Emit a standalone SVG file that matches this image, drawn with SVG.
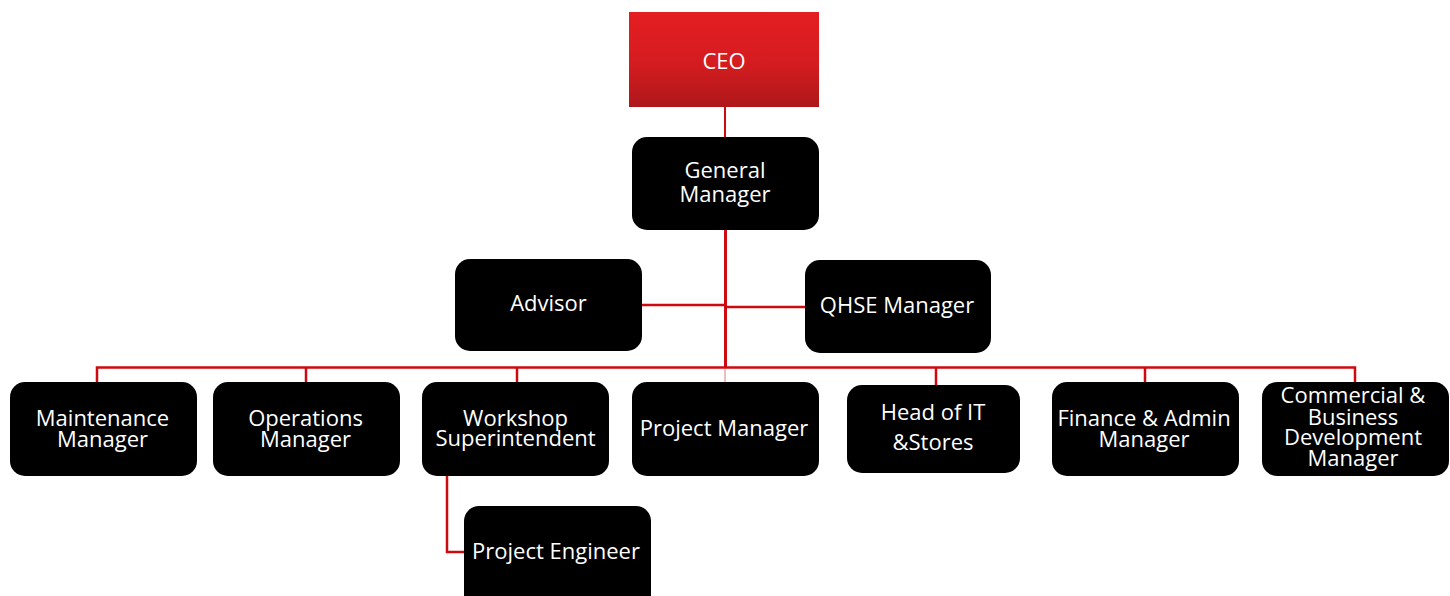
<svg xmlns="http://www.w3.org/2000/svg" width="1450" height="596" viewBox="0 0 1450 596">
<defs>
<linearGradient id="ceoGrad" x1="0" y1="0" x2="0" y2="1">
<stop offset="0" stop-color="#e41e22"/>
<stop offset="0.55" stop-color="#d41c20"/>
<stop offset="1" stop-color="#ae171a"/>
</linearGradient>
</defs>
<style>
.box{fill:#000000;}
.lbl{font-family:"Open Sans","Noto Sans","DejaVu Sans",sans-serif;font-size:22px;fill:#ffffff;text-anchor:middle;}
.ln{stroke:#cc0a0f;stroke-width:2.5;fill:none;}
.thin{stroke:#cc0a0f;stroke-width:2;fill:none;}
.pale{stroke:#e8a8aa;stroke-width:1.5;fill:none;}
</style>
<rect width="1450" height="596" fill="#ffffff"/>
<g id="connectors">
<line class="thin" x1="725" y1="107" x2="725" y2="137"/>
<line class="ln" x1="725.5" y1="230" x2="725.5" y2="368" style="stroke-width:3"/>
<line class="ln" x1="642" y1="305" x2="725" y2="305"/>
<line class="ln" x1="725" y1="307" x2="805" y2="307"/>
<polyline class="ln" points="97,382 97,367.5 1355,367.5 1355,382"/>
<line class="ln" x1="306" y1="367" x2="306" y2="382"/>
<line class="ln" x1="517" y1="367" x2="517" y2="382"/>
<line class="pale" x1="725" y1="369" x2="725" y2="382"/>
<line class="ln" x1="936" y1="367" x2="936" y2="385"/>
<line class="ln" x1="1145" y1="367" x2="1145" y2="382"/>
<polyline class="ln" points="447,476 447,552 464,552"/>
</g>
<g id="ceo">
<rect x="629" y="12" width="190" height="95" fill="url(#ceoGrad)"/>
<text class="lbl" x="724" y="69">CEO</text>
</g>
<g id="general-manager">
<rect class="box" x="632" y="137" width="187" height="93" rx="15"/>
<text class="lbl" x="725" y="178">General</text>
<text class="lbl" x="725" y="201.5">Manager</text>
</g>
<g id="advisor">
<rect class="box" x="455" y="259" width="187" height="92" rx="15"/>
<text class="lbl" x="548.5" y="311">Advisor</text>
</g>
<g id="qhse-manager">
<rect class="box" x="805" y="260" width="186" height="93" rx="15"/>
<text class="lbl" x="897" y="313">QHSE Manager</text>
</g>
<g id="maintenance-manager">
<rect class="box" x="10" y="382" width="187" height="94" rx="15"/>
<text class="lbl" x="102.5" y="425.5">Maintenance</text>
<text class="lbl" x="102.5" y="447">Manager</text>
</g>
<g id="operations-manager">
<rect class="box" x="213" y="382" width="187" height="94" rx="15"/>
<text class="lbl" x="305.5" y="425.5">Operations</text>
<text class="lbl" x="305.5" y="447">Manager</text>
</g>
<g id="workshop-superintendent">
<rect class="box" x="422" y="382" width="187" height="94" rx="15"/>
<text class="lbl" x="515.5" y="425.5">Workshop</text>
<text class="lbl" x="515.5" y="446">Superintendent</text>
</g>
<g id="project-manager">
<rect class="box" x="632" y="382" width="187" height="94" rx="15"/>
<text class="lbl" x="724" y="436">Project Manager</text>
</g>
<g id="head-of-it">
<rect class="box" x="847" y="385" width="173" height="88" rx="15"/>
<text class="lbl" x="933" y="419.5">Head of IT</text>
<text class="lbl" x="933" y="450">&amp;Stores</text>
</g>
<g id="finance-admin-manager">
<rect class="box" x="1052" y="382" width="187" height="94" rx="15"/>
<text class="lbl" x="1144" y="426">Finance &amp; Admin</text>
<text class="lbl" x="1144" y="446.5">Manager</text>
</g>
<g id="commercial-bd-manager">
<rect class="box" x="1262" y="382" width="187" height="94" rx="15"/>
<text class="lbl" x="1353" y="403">Commercial &amp;</text>
<text class="lbl" x="1353" y="424.5">Business</text>
<text class="lbl" x="1353" y="445">Development</text>
<text class="lbl" x="1353" y="465.5">Manager</text>
</g>
<g id="project-engineer">
<rect class="box" x="464" y="506" width="187" height="104" rx="15"/>
<text class="lbl" x="556" y="559">Project Engineer</text>
</g>
</svg>
